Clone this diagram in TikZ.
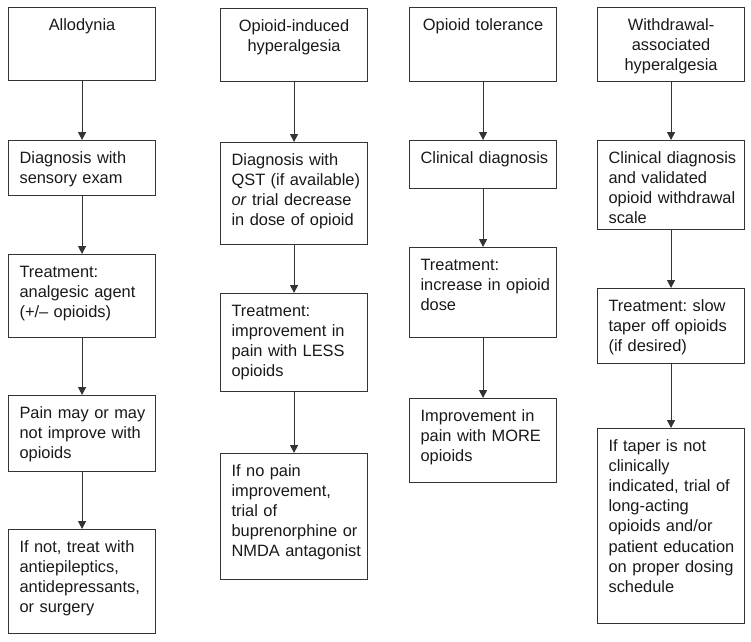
\documentclass[tikz,border=0pt]{standalone}
\usepackage{fontspec}
\setmainfont{Liberation Sans}
\usetikzlibrary{arrows.meta}
\frenchspacing

\tikzset{
  box/.style={draw=black!80, line width=1.1pt, anchor=north west,
    inner xsep=0pt, inner ysep=0pt, text width=147pt,
    font=\fontsize{16.4}{20.1}\selectfont, text=black!90,
    text height=23pt, text depth=#1pt-23pt},
  stage/.style={box=#1, align=left, execute at begin node={\leftskip=11pt}},
  title/.style={box=#1, align=center},
  flow/.style={draw=black!80, line width=1pt, -{Triangle[width=8pt,length=8pt]}}
}

\begin{document}
\begin{tikzpicture}[x=1pt, y=-1pt]
  \useasboundingbox (0,0) rectangle (751,641);
  % Allodynia column
  \node[title=73] (allo1) at (8,7) {Allodynia};
  \node[stage=55] (allo2) at (8,140) {Diagnosis with\\sensory exam};
  \node[stage=83] (allo3) at (8,254) {Treatment:\\analgesic agent\\(+/– opioids)};
  \node[stage=76] (allo4) at (8,395) {Pain may or may\\not improve with\\opioids};
  \node[stage=104] (allo5) at (8,529) {If not, treat with\\antiepileptics,\\antidepressants,\\or surgery};
  % Opioid-induced hyperalgesia column
  \node[title=73] (oih1) at (220,8) {Opioid-induced\\hyperalgesia};
  \node[stage=102] (oih2) at (220,142) {Diagnosis with\\QST (if available)\\\textit{or} trial decrease\\in dose of opioid};
  \node[stage=98] (oih3) at (220,293) {Treatment:\\improvement in\\pain with LESS\\opioids};
  \node[stage=126] (oih4) at (220,453) {If no pain\\improvement,\\trial of\\buprenorphine or\\NMDA antagonist};
  % Opioid tolerance column
  \node[title=74] (tol1) at (409,7) {Opioid tolerance};
  \node[stage=48] (tol2) at (409,140) {Clinical diagnosis};
  \node[stage=90] (tol3) at (409,247) {Treatment:\\increase in opioid\\dose};
  \node[stage=84] (tol4) at (409,398) {Improvement in\\pain with MORE\\opioids};
  % Withdrawal-associated hyperalgesia column
  \node[title=74] (wah1) at (597,7) {Withdrawal-\\associated\\hyperalgesia};
  \node[stage=89] (wah2) at (597,140) {Clinical diagnosis\\and validated\\opioid withdrawal\\scale};
  \node[stage=75] (wah3) at (597,288) {Treatment: slow\\taper off opioids\\(if desired)};
  \node[stage=195] (wah4) at (597,428) {If taper is not\\clinically\\indicated, trial of\\long-acting\\opioids and/or\\patient education\\on proper dosing\\schedule};
  % arrows down each column
  \draw[flow] (allo1) -- (allo2);
  \draw[flow] (allo2) -- (allo3);
  \draw[flow] (allo3) -- (allo4);
  \draw[flow] (allo4) -- (allo5);
  \draw[flow] (oih1) -- (oih2);
  \draw[flow] (oih2) -- (oih3);
  \draw[flow] (oih3) -- (oih4);
  \draw[flow] (tol1) -- (tol2);
  \draw[flow] (tol2) -- (tol3);
  \draw[flow] (tol3) -- (tol4);
  \draw[flow] (wah1) -- (wah2);
  \draw[flow] (wah2) -- (wah3);
  \draw[flow] (wah3) -- (wah4);
\end{tikzpicture}
\end{document}
